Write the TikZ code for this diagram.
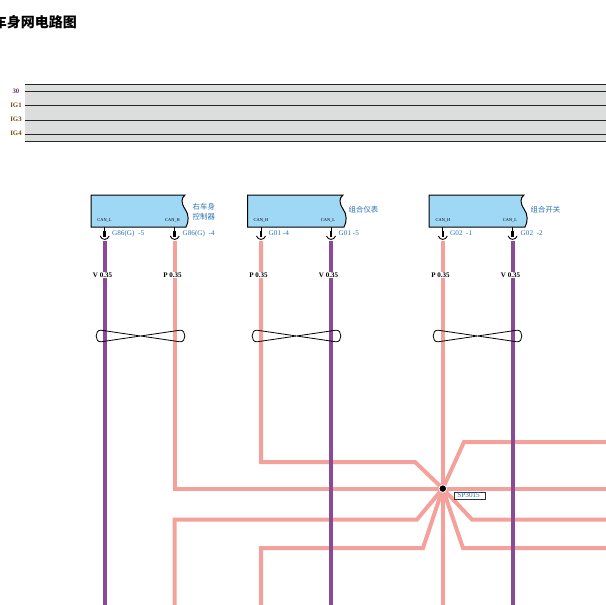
\documentclass[tikz,border=0pt]{standalone}
\usepackage{fontspec}
\setmainfont{Liberation Serif}
\newfontfamily\cjk{Noto Sans CJK SC}
\definecolor{wireV}{HTML}{8B4A97}
\definecolor{wireP}{HTML}{F4A19C}
\definecolor{busgray}{HTML}{DCDDDD}
\definecolor{boxblue}{HTML}{9FD8F5}
\definecolor{pinblue}{HTML}{2A72B8}
\definecolor{busv}{HTML}{6B2F7B}
\definecolor{busy}{HTML}{7A4A10}
\tikzset{
	wirev/.style={draw=wireV, line width=4pt},
	wirep/.style={draw=wireP, line width=4pt},
	busline/.style={draw=black!85, line width=0.9pt},
	buslabel/.style={font=\fontsize{6.8}{7}\selectfont\bfseries, anchor=center, inner sep=0pt},
	canlabel/.style={font=\fontsize{4.4}{5}\selectfont, text=black, inner sep=0pt},
	pinlabel/.style={font=\fontsize{7.2}{8}\selectfont, text=pinblue, anchor=west, inner sep=0pt},
	sizelabel/.style={font=\fontsize{7}{7}\selectfont, fill=white, inner sep=0.6pt},
	partlabel/.style={font=\cjk\fontsize{7.4}{10}\selectfont, text=pinblue, anchor=west, inner sep=0pt, align=left},
	partbox/.style={draw=black, fill=boxblue, line width=1pt},
	twist/.style={draw=black, line width=0.8pt}
}
% one module with a torn right edge: #1 left, #2 right, #3 name
\newcommand{\canbox}[3]{
	\path [partbox] (#1,195) -- (#2,195)
		.. controls (#2-4,198) and (#2-4,203) .. (#2,209)
		.. controls (#2+4,214) and (#2+4,222) .. (#2+1,227)
		-- (#1,227) -- cycle;
	\coordinate (#3) at (#1,195);
}
% stub with its socket: #1 name, #2 x
\newcommand{\canpin}[2]{
	\coordinate (#1top) at (#2,227);
	\coordinate (#1end) at (#2,241);
	\draw[line width=0.8pt] (#1top) -- ++(0,5);
	\draw[line width=2.6pt] (#2,231) -- (#2,237);
	\draw[line width=0.9pt] (#2-4.5,236) .. controls (#2-3,240.5) and (#2+3,240.5) .. (#2+4.5,236);
}
% twisted pair: #1 name, #2 left, #3 right
\newcommand{\twistpair}[3]{
	\coordinate (#1) at ({(#2+#3)/2},336);
	\draw[twist] (#1) -- (#2+5,330.2) .. controls (#2-1.5,329.6) and (#2-1.5,342.4) .. (#2+5,341.8) -- (#1)
		-- (#3-5,330.2) .. controls (#3+1.5,329.6) and (#3+1.5,342.4) .. (#3-5,341.8) -- cycle;
}
\begin{document}
\begin{tikzpicture}[x=1pt, y=-1pt]
	\useasboundingbox (0,0) rectangle (606,605);
	\node[anchor=east, inner sep=0pt, font=\cjk\fontsize{14}{14}\selectfont\bfseries] (title) at (77,22) {车身网电路图};
% power bus
\path [fill=busgray] (25,84) rectangle (606,141);
	\foreach \y in {84,91,105,120,134,141}
		\draw[busline] (25,\y) -- (606,\y);
	\node[buslabel, text=busv] (b30) at (16,91) {30};
	\node[buslabel, text=busy] (bIG1) at (16,105) {IG1};
	\node[buslabel, text=busy] (bIG3) at (16,119.5) {IG3};
	\node[buslabel, text=busy] (bIG4) at (16,133.5) {IG4};
	% modules
	\canbox{91}{185}{boxA}
	\canbox{247.5}{343}{boxB}
	\canbox{429}{524}{boxC}
	\node[partlabel] (nameA) at (192.5,212) {右车身\\控制器};
	\node[partlabel] (nameB) at (348.5,210) {组合仪表};
	\node[partlabel] (nameC) at (530.5,209.5) {组合开关};
	\node[canlabel] (canA) at (104.5,220.5) {CAN\_L};
	\node[canlabel] (canB) at (172.5,220.5) {CAN\_H};
	\node[canlabel] (canC) at (261,220.5) {CAN\_H};
	\node[canlabel] (canD) at (328,220.5) {CAN\_L};
	\node[canlabel] (canE) at (443,220.5) {CAN\_H};
	\node[canlabel] (canF) at (510,220.5) {CAN\_L};
	% pins
	\canpin{pA}{104.7}
	\canpin{pB}{174.7}
	\canpin{pC}{261}
	\canpin{pD}{331}
	\canpin{pE}{442.8}
	\canpin{pF}{512.6}
	\node[pinlabel] (lA) at (112,233.5) {G86(G) \ -5};
	\node[pinlabel] (lB) at (182.5,233.5) {G86(G) \ -4};
	\node[pinlabel] (lC) at (268.5,233.5) {G01 -4};
	\node[pinlabel] (lD) at (338.5,233.5) {G01 -5};
	\node[pinlabel] (lE) at (450,233.5) {G02 \ -1};
	\node[pinlabel] (lF) at (520.5,233.5) {G02 \ -2};
	% splice and free ends
	\coordinate (sp) at (442.8,488.6);
	\coordinate (eA) at (104.7,605);
	\coordinate (eB) at (174.7,605);
	\coordinate (eC) at (261,605);
	\coordinate (eD) at (331,605);
	\coordinate (eE) at (442.8,605);
	\coordinate (eF) at (512.6,605);
	\coordinate (r1) at (606,442);
	\coordinate (r2) at (606,488.6);
	\coordinate (r3) at (606,519.5);
	\coordinate (r4) at (606,548);
	% pink wires
	\draw[wirep] (pBend) |- (r2);
	\draw[wirep] (pCend) |- (415,462) -- (sp);
	\draw[wirep] (pEend) -- (eE);
	\draw[wirep] (eB) |- (417,519.5) -- (sp);
	\draw[wirep] (eC) |- (423,548) -- (sp);
	\draw[wirep] (sp) -- (464,442) -- (r1);
	\draw[wirep] (sp) -- (472,519.5) -- (r3);
	\draw[wirep] (sp) -- (463,548) -- (r4);
	% purple wires
	\draw[wirev] (pAend) -- (eA);
	\draw[wirev] (pDend) -- (eD);
	\draw[wirev] (pFend) -- (eF);
	% sizes
	\foreach \x/\c in {102.5/V,172.5/P,258.5/P,328.5/V,440.5/P,510.5/V}
		\node[sizelabel] at (\x,275) {\textbf{\c}\ \textbf{0.35}};
	% twisted pairs
	\twistpair{tA}{96}{185}
	\twistpair{tB}{252}{341}
	\twistpair{tC}{433}{522}
	% splice
	\filldraw[draw=white, fill=black, line width=0.8pt] (sp) circle (3.8);
	\node[draw=black!80, fill=white, line width=0.8pt, inner sep=0pt, minimum width=31pt, minimum height=7pt, text=pinblue, font=\fontsize{7.2}{7}\selectfont] (spl) at (469.5,495.5) {SP3015\ \ };
\end{tikzpicture}
\end{document}
